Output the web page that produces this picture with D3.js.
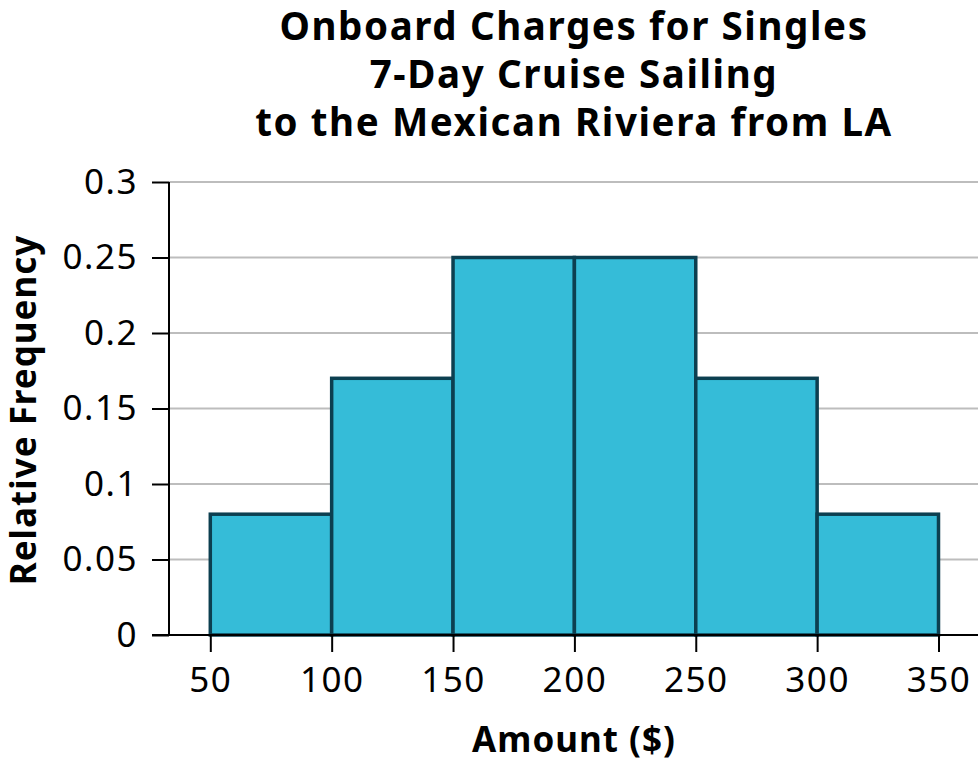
<!DOCTYPE html>
<html>
<head>
<meta charset="utf-8">
<script src="https://cdn.jsdelivr.net/npm/d3@7"></script>
<style>
  body { margin: 0; background: #fff; }
  text { font-family: "Noto Sans", "Open Sans", sans-serif; fill: #000; }
</style>
</head>
<body>
<div id="chart"></div>
<script>
// data
var bin_starts   = [50, 100, 150, 200, 250, 300];
var bin_ends     = [100, 150, 200, 250, 300, 350];
var rel_freq     = [0.08, 0.17, 0.25, 0.25, 0.17, 0.08];
var x_ticks      = [50, 100, 150, 200, 250, 300, 350];
var y_ticks      = [0, 0.05, 0.1, 0.15, 0.2, 0.25, 0.3];
var y_tick_labels = ['0', '0.05', '0.1', '0.15', '0.2', '0.25', '0.3'];
var title_lines  = ['Onboard Charges for Singles', '7-Day Cruise Sailing', 'to the Mexican Riviera from LA'];

// --------------------------------------------------------
var chart_width  = 980;
var chart_height = 769;
var axis_x       = 169;   // y axis position
var plot_right   = 978;
var plot_top     = 182;
var plot_bottom  = 635;

var svg = d3.select('#chart')
	.append('svg')
	.attr('width', chart_width)
	.attr('height', chart_height);

// Scales
const x_scale = d3.scaleLinear()
	.domain([50, 350])
	.range([210.3, 938.5]);

const y_scale = d3.scaleLinear()
	.domain([0, 0.3])
	.range([plot_bottom, plot_top]);

// --------------------------------------------------------
// gridlines
svg.append('g')
	.selectAll('line')
	.data(y_ticks.filter(function(d){ return d > 0; }))
	.enter()
	.append('line')
	.attr('x1', axis_x)
	.attr('x2', plot_right)
	.attr('y1', function(d){ return y_scale(d); })
	.attr('y2', function(d){ return y_scale(d); })
	.attr('stroke', '#bdbdbd')
	.attr('stroke-width', 2);

// bars
var bins = rel_freq.map(function(v, i){ return { x0: bin_starts[i], x1: bin_ends[i], v: v }; });

svg.append('g')
	.selectAll('rect')
	.data(bins)
	.enter()
	.append('rect')
	.attr('x', function(d){ return x_scale(d.x0); })
	.attr('y', function(d){ return y_scale(d.v); })
	.attr('width', function(d){ return x_scale(d.x1) - x_scale(d.x0); })
	.attr('height', function(d){ return plot_bottom - y_scale(d.v); })
	.attr('fill', '#35bcd8')
	.attr('stroke', '#0c3f50')
	.attr('stroke-width', 3.5);

// --------------------------------------------------------
// Axes
const x_axis = d3.axisBottom(x_scale)
	.tickValues(x_ticks)
	.tickSize(17)
	.tickPadding(15)
	.tickSizeOuter(0);

var xg = svg.append('g')
	.attr('class', 'x-axis')
	.attr('transform', 'translate(0,' + plot_bottom + ')')
	.call(x_axis);
xg.select('.domain').remove();
xg.append('line')
	.attr('x1', 152).attr('x2', plot_right)
	.attr('stroke', '#000').attr('stroke-width', 2);
xg.selectAll('.tick line').attr('stroke', '#000').attr('stroke-width', 2);
xg.selectAll('.tick text')
	.attr('font-size', 35)
	.attr('letter-spacing', 1.5)
	.attr('font-family', '"Noto Sans", sans-serif')
	.attr('fill', '#000');

const y_axis = d3.axisLeft(y_scale)
	.tickValues(y_ticks)
	.tickFormat(function(d, i){ return y_tick_labels[i]; })
	.tickSize(17)
	.tickPadding(14)
	.tickSizeOuter(0);

var yg = svg.append('g')
	.attr('class', 'y-axis')
	.attr('transform', 'translate(' + axis_x + ',0)')
	.call(y_axis);
yg.select('.domain').remove();
yg.append('line')
	.attr('y1', plot_top).attr('y2', plot_bottom)
	.attr('stroke', '#000').attr('stroke-width', 2);
yg.selectAll('.tick line').attr('stroke', '#000').attr('stroke-width', 2);
yg.selectAll('.tick text')
	.attr('font-size', 35)
	.attr('letter-spacing', 1.5)
	.attr('font-family', '"Noto Sans", sans-serif')
	.attr('fill', '#000');

// --------------------------------------------------------
// titles
svg.append('g')
	.selectAll('text')
	.data(title_lines)
	.enter()
	.append('text')
	.attr('x', 574)
	.attr('y', function(d, i){ return 40 + i * 48; })
	.attr('text-anchor', 'middle')
	.attr('font-size', 38.5)
	.attr('letter-spacing', 1.6)
	.attr('font-weight', 'bold')
	.text(function(d){ return d; });

svg.append('text')
	.attr('x', 574)
	.attr('y', 752)
	.attr('text-anchor', 'middle')
	.attr('font-size', 35)
	.attr('letter-spacing', 1)
	.attr('font-weight', 'bold')
	.text('Amount ($)');

svg.append('text')
	.attr('transform', 'translate(36,' + 410 + ') rotate(-90)')
	.attr('text-anchor', 'middle')
	.attr('font-size', 35)
	.attr('letter-spacing', 1)
	.attr('font-weight', 'bold')
	.text('Relative Frequency');
</script>
</body>
</html>
